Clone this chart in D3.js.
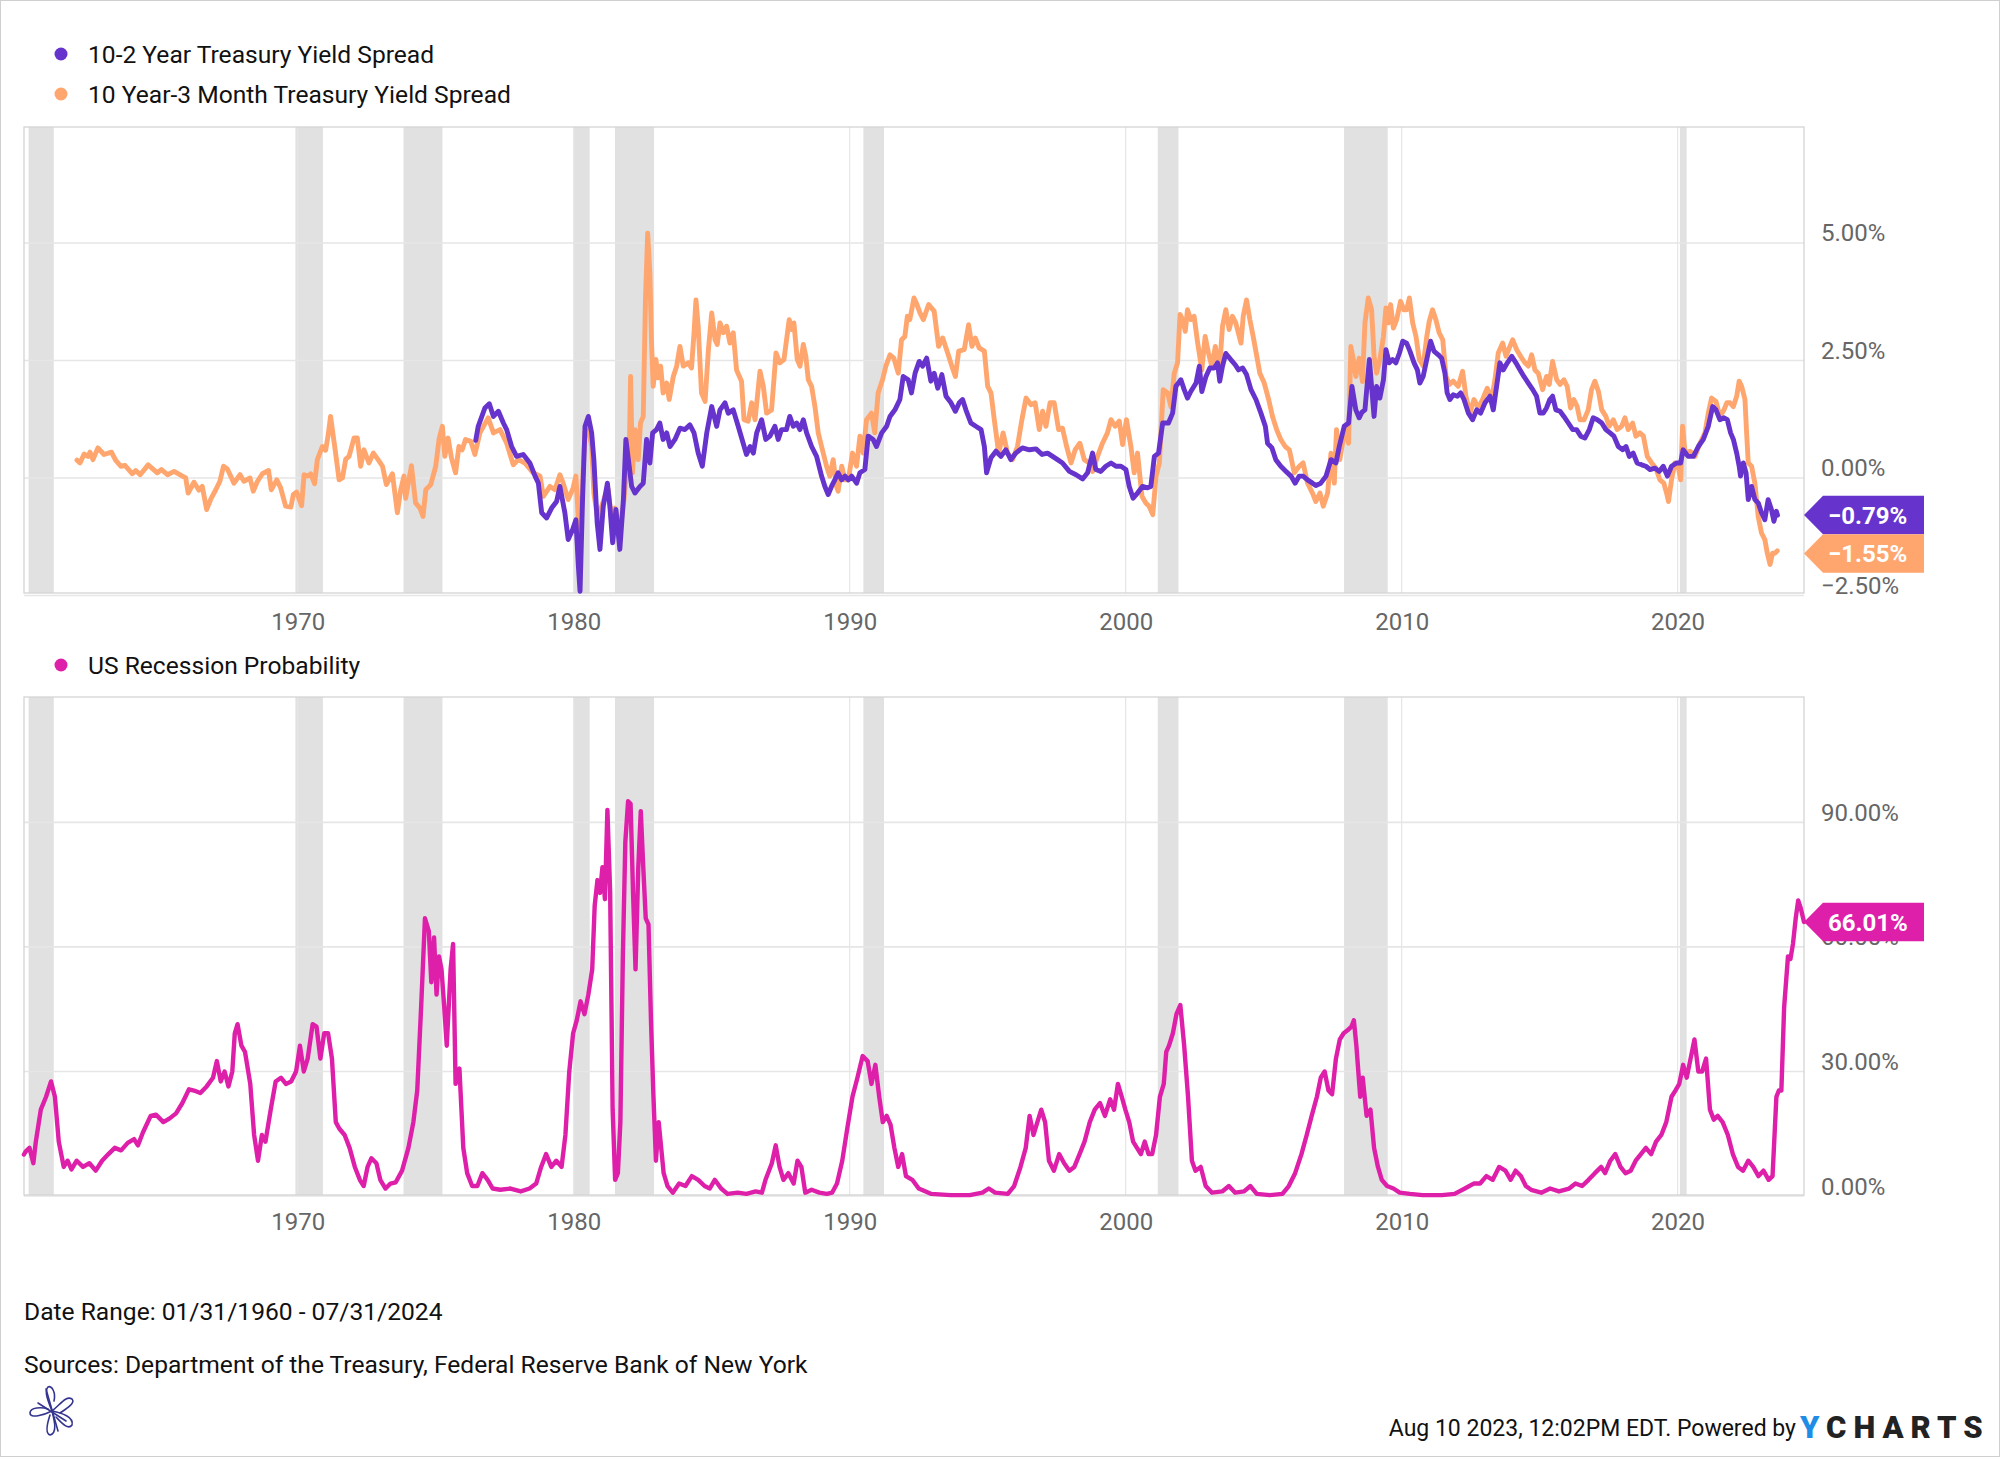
<!DOCTYPE html>
<html><head><meta charset="utf-8">
<script src="https://cdn.jsdelivr.net/npm/d3@7"></script>
<style>body{margin:0;background:#fff;} svg{display:block;font-family:Roboto, "Noto Sans", sans-serif;}</style>
</head><body>
<svg id="c" width="2000" height="1457"></svg>
<script>
// ---------------- DATA ----------------
const recessions = [["1960-04-01","1961-02-28"],["1969-12-01","1970-11-30"],["1973-11-01","1975-03-31"],["1980-01-01","1980-07-31"],["1981-07-01","1982-11-30"],["1990-07-01","1991-03-31"],["2001-03-01","2001-11-30"],["2007-12-01","2009-06-30"],["2020-02-01","2020-04-30"]];
const xTickYears = [1970,1980,1990,2000,2010,2020];
const yTicksTop = [-2.5,0,2.5,5];
const yTicksBottom = [0,30,60,90];
const seriesNames = ["10-2 Year Treasury Yield Spread","10 Year-3 Month Treasury Yield Spread","US Recession Probability"];
const lastValues = [-0.79,-1.55,66.01];

// [decimal year, value %]
const spread10y2y = [[1976.45,0.80],[1976.54,1.10],[1976.78,1.49],[1976.94,1.58],[1977.09,1.31],[1977.27,1.42],[1977.45,1.17],[1977.57,1.03],[1977.75,0.67],[1977.93,0.46],[1978.17,0.50],[1978.41,0.32],[1978.60,0.04],[1978.72,-0.11],[1978.84,-0.74],[1979.02,-0.85],[1979.20,-0.64],[1979.38,-0.50],[1979.50,-0.18],[1979.68,-0.74],[1979.80,-1.31],[1979.96,-1.10],[1980.08,-0.89],[1980.17,-1.88],[1980.23,-2.41],[1980.32,-0.46],[1980.41,1.10],[1980.53,1.31],[1980.65,0.96],[1980.73,0.39],[1980.85,-0.96],[1980.95,-1.52],[1981.07,-0.60],[1981.22,-0.11],[1981.31,-0.60],[1981.41,-1.38],[1981.53,-0.67],[1981.67,-1.52],[1981.80,-0.46],[1981.89,0.82],[1981.98,0.39],[1982.10,-0.18],[1982.22,-0.32],[1982.40,-0.18],[1982.52,-0.11],[1982.64,0.82],[1982.76,0.32],[1982.86,0.96],[1983.00,1.03],[1983.12,1.17],[1983.24,0.82],[1983.37,0.96],[1983.49,0.67],[1983.67,0.82],[1983.85,1.06],[1984.03,1.03],[1984.21,1.13],[1984.36,0.96],[1984.51,0.53],[1984.66,0.25],[1984.82,0.96],[1985.00,1.52],[1985.18,1.10],[1985.30,1.45],[1985.48,1.60],[1985.60,1.38],[1985.78,1.45],[1985.96,1.10],[1986.14,0.74],[1986.26,0.50],[1986.39,0.67],[1986.51,0.53],[1986.63,0.96],[1986.81,1.24],[1986.96,0.82],[1987.11,0.89],[1987.29,1.10],[1987.41,0.82],[1987.53,1.03],[1987.71,1.03],[1987.83,1.31],[1987.96,1.10],[1988.08,1.17],[1988.20,1.03],[1988.32,1.24],[1988.44,0.96],[1988.62,0.67],[1988.80,0.46],[1988.98,0.04],[1989.10,-0.18],[1989.22,-0.35],[1989.34,-0.18],[1989.46,-0.04],[1989.58,0.11],[1989.71,-0.04],[1989.83,0.04],[1989.95,-0.04],[1990.07,0.04],[1990.25,-0.11],[1990.37,0.11],[1990.55,0.18],[1990.67,0.89],[1990.85,0.82],[1990.97,0.67],[1991.16,0.96],[1991.34,1.10],[1991.46,1.31],[1991.64,1.45],[1991.82,1.67],[1991.94,2.16],[1992.12,2.09],[1992.24,1.81],[1992.37,2.23],[1992.52,2.48],[1992.64,2.38],[1992.79,2.55],[1992.94,2.06],[1993.06,2.23],[1993.19,1.91],[1993.34,2.20],[1993.49,1.74],[1993.67,1.60],[1993.83,1.42],[1993.97,1.60],[1994.09,1.67],[1994.21,1.45],[1994.39,1.17],[1994.57,1.10],[1994.76,1.03],[1994.88,0.67],[1994.96,0.11],[1995.12,0.43],[1995.30,0.57],[1995.48,0.46],[1995.66,0.60],[1995.84,0.39],[1996.02,0.53],[1996.26,0.64],[1996.51,0.60],[1996.75,0.62],[1996.97,0.50],[1997.17,0.53],[1997.35,0.46],[1997.53,0.39],[1997.71,0.32],[1997.96,0.14],[1998.20,0.07],[1998.44,-0.02],[1998.62,0.11],[1998.80,0.53],[1998.92,0.18],[1999.10,0.14],[1999.28,0.25],[1999.47,0.32],[1999.65,0.25],[1999.83,0.25],[2000.01,0.18],[2000.13,-0.18],[2000.27,-0.43],[2000.43,-0.32],[2000.61,-0.18],[2000.79,-0.21],[2000.91,-0.18],[2001.04,0.46],[2001.19,0.53],[2001.34,1.17],[2001.55,1.17],[2001.70,1.38],[2001.82,1.95],[2002.00,2.09],[2002.12,1.88],[2002.24,1.70],[2002.36,1.84],[2002.55,2.02],[2002.67,2.38],[2002.76,1.84],[2002.91,2.16],[2003.05,2.34],[2003.21,2.34],[2003.33,2.45],[2003.41,2.06],[2003.51,2.38],[2003.63,2.65],[2003.81,2.52],[2003.97,2.41],[2004.09,2.30],[2004.24,2.34],[2004.38,2.20],[2004.54,1.88],[2004.72,1.67],[2004.90,1.38],[2005.06,1.10],[2005.14,0.74],[2005.30,0.64],[2005.44,0.39],[2005.62,0.25],[2005.81,0.14],[2005.99,0.04],[2006.14,-0.11],[2006.29,0.04],[2006.43,0.04],[2006.59,-0.04],[2006.77,-0.11],[2006.89,-0.16],[2007.07,-0.11],[2007.26,0.04],[2007.44,0.39],[2007.62,0.32],[2007.74,0.67],[2007.92,1.10],[2008.08,1.17],[2008.20,1.95],[2008.34,1.45],[2008.46,1.28],[2008.56,1.40],[2008.67,1.45],[2008.83,2.52],[2008.91,1.95],[2009.00,1.31],[2009.09,1.95],[2009.21,1.70],[2009.34,2.09],[2009.43,2.73],[2009.55,2.45],[2009.67,2.52],[2009.79,2.45],[2009.92,2.66],[2010.04,2.91],[2010.18,2.87],[2010.30,2.70],[2010.45,2.45],[2010.57,2.30],[2010.66,2.02],[2010.78,2.16],[2010.91,2.52],[2011.05,2.91],[2011.17,2.70],[2011.33,2.62],[2011.45,2.55],[2011.57,2.23],[2011.65,1.81],[2011.75,1.67],[2011.87,1.77],[2012.02,1.74],[2012.14,1.81],[2012.26,1.67],[2012.42,1.38],[2012.57,1.24],[2012.72,1.45],[2012.86,1.38],[2013.02,1.60],[2013.20,1.74],[2013.32,1.45],[2013.44,1.95],[2013.56,2.45],[2013.68,2.30],[2013.83,2.45],[2013.99,2.59],[2014.14,2.45],[2014.29,2.30],[2014.43,2.16],[2014.59,2.02],[2014.75,1.88],[2014.89,1.74],[2015.01,1.38],[2015.13,1.38],[2015.25,1.49],[2015.37,1.67],[2015.47,1.74],[2015.59,1.45],[2015.74,1.42],[2015.88,1.31],[2016.04,1.17],[2016.20,1.03],[2016.34,1.03],[2016.49,0.89],[2016.64,0.85],[2016.80,1.03],[2016.94,1.28],[2017.09,1.24],[2017.25,1.17],[2017.40,1.03],[2017.55,0.96],[2017.69,0.89],[2017.85,0.67],[2018.01,0.60],[2018.13,0.67],[2018.25,0.46],[2018.39,0.53],[2018.53,0.32],[2018.70,0.28],[2018.85,0.25],[2019.00,0.18],[2019.18,0.21],[2019.33,0.14],[2019.48,0.25],[2019.63,0.04],[2019.78,0.25],[2019.96,0.32],[2020.11,0.32],[2020.20,0.60],[2020.38,0.46],[2020.57,0.46],[2020.75,0.67],[2020.93,0.82],[2021.11,1.10],[2021.27,1.52],[2021.39,1.45],[2021.53,1.24],[2021.68,1.28],[2021.80,1.24],[2021.92,0.96],[2022.02,0.82],[2022.14,0.53],[2022.23,0.25],[2022.28,0.04],[2022.38,0.32],[2022.48,0.11],[2022.56,-0.46],[2022.68,-0.18],[2022.80,-0.46],[2022.92,-0.53],[2023.04,-0.74],[2023.16,-0.89],[2023.28,-0.46],[2023.40,-0.67],[2023.49,-0.92],[2023.58,-0.71],[2023.62,-0.79]];

const spread10y3m = [[1962.00,0.38],[1962.11,0.32],[1962.26,0.51],[1962.40,0.46],[1962.47,0.55],[1962.58,0.39],[1962.76,0.64],[1962.98,0.50],[1963.25,0.55],[1963.40,0.38],[1963.59,0.25],[1963.74,0.27],[1964.01,0.09],[1964.13,0.16],[1964.29,0.07],[1964.58,0.28],[1964.91,0.11],[1965.06,0.18],[1965.28,0.07],[1965.52,0.14],[1965.82,0.04],[1965.94,0.00],[1966.03,-0.32],[1966.24,-0.09],[1966.42,-0.26],[1966.54,-0.18],[1966.70,-0.67],[1966.85,-0.45],[1967.03,-0.25],[1967.18,-0.07],[1967.31,0.25],[1967.45,0.19],[1967.69,-0.11],[1967.91,0.07],[1968.05,-0.07],[1968.27,0.00],[1968.39,-0.28],[1968.54,-0.07],[1968.72,0.09],[1968.94,0.16],[1969.04,-0.25],[1969.24,-0.04],[1969.38,-0.21],[1969.56,-0.60],[1969.75,-0.62],[1969.84,-0.35],[1969.96,-0.30],[1970.14,-0.59],[1970.23,0.07],[1970.37,0.04],[1970.47,0.09],[1970.61,-0.12],[1970.71,0.39],[1970.89,0.67],[1971.01,0.59],[1971.10,0.90],[1971.19,1.31],[1971.34,0.67],[1971.50,-0.04],[1971.62,0.00],[1971.74,0.40],[1971.86,0.46],[1972.04,0.85],[1972.16,0.85],[1972.28,0.25],[1972.40,0.60],[1972.58,0.32],[1972.74,0.53],[1972.91,0.39],[1973.07,0.25],[1973.21,-0.14],[1973.43,0.09],[1973.61,-0.74],[1973.73,-0.25],[1973.85,0.04],[1973.91,-0.43],[1974.12,0.26],[1974.27,-0.53],[1974.43,-0.64],[1974.54,-0.82],[1974.64,-0.25],[1974.82,-0.14],[1975.00,0.25],[1975.12,0.82],[1975.24,1.10],[1975.33,0.46],[1975.45,0.85],[1975.57,0.43],[1975.72,0.11],[1975.84,0.67],[1975.96,0.60],[1976.08,0.82],[1976.27,0.78],[1976.42,0.50],[1976.60,0.96],[1976.90,1.28],[1977.09,0.96],[1977.33,1.03],[1977.57,0.74],[1977.81,0.28],[1977.99,0.39],[1978.23,0.32],[1978.53,0.11],[1978.78,0.04],[1978.90,-0.39],[1979.14,-0.18],[1979.32,-0.25],[1979.50,0.07],[1979.62,-0.11],[1979.80,-0.46],[1979.98,-0.21],[1980.08,0.04],[1980.17,-0.89],[1980.23,-1.38],[1980.35,0.25],[1980.41,0.99],[1980.53,1.03],[1980.65,0.67],[1980.73,-0.32],[1980.89,-0.96],[1981.01,-0.60],[1981.13,-0.39],[1981.25,-0.25],[1981.37,-0.89],[1981.49,-0.64],[1981.67,-1.17],[1981.82,-0.46],[1981.92,0.18],[1982.01,0.39],[1982.06,2.16],[1982.13,0.11],[1982.22,1.03],[1982.34,0.39],[1982.42,1.17],[1982.52,1.31],[1982.60,3.79],[1982.68,5.21],[1982.76,4.36],[1982.82,2.87],[1982.88,1.95],[1982.98,2.52],[1983.06,2.13],[1983.15,2.38],[1983.24,1.81],[1983.37,2.02],[1983.46,1.67],[1983.61,2.16],[1983.73,2.38],[1983.85,2.80],[1983.97,2.38],[1984.15,2.45],[1984.27,2.34],[1984.36,3.09],[1984.43,3.79],[1984.51,3.23],[1984.63,1.81],[1984.76,1.63],[1984.88,2.73],[1985.00,3.51],[1985.12,2.94],[1985.20,2.84],[1985.30,3.30],[1985.42,3.09],[1985.54,3.23],[1985.66,2.87],[1985.78,3.09],[1985.90,2.30],[1986.08,2.06],[1986.17,1.24],[1986.32,1.21],[1986.45,1.60],[1986.57,1.24],[1986.75,2.27],[1986.87,1.95],[1986.99,1.38],[1987.17,1.45],[1987.33,2.66],[1987.47,2.45],[1987.62,2.52],[1987.69,2.84],[1987.81,3.37],[1987.90,3.16],[1987.98,3.30],[1988.10,2.52],[1988.20,2.38],[1988.32,2.84],[1988.41,2.59],[1988.50,2.09],[1988.62,1.95],[1988.74,1.52],[1988.86,0.96],[1988.98,0.67],[1989.16,0.25],[1989.28,0.04],[1989.40,0.39],[1989.52,-0.18],[1989.58,-0.28],[1989.71,0.25],[1989.83,-0.04],[1989.95,-0.04],[1990.10,0.53],[1990.25,0.25],[1990.37,0.89],[1990.49,0.53],[1990.61,1.24],[1990.79,1.38],[1990.91,0.96],[1991.03,1.81],[1991.19,2.09],[1991.31,2.38],[1991.46,2.62],[1991.60,2.55],[1991.76,2.23],[1991.88,2.94],[1992.00,3.01],[1992.09,3.44],[1992.18,3.37],[1992.33,3.83],[1992.43,3.70],[1992.55,3.51],[1992.67,3.37],[1992.86,3.69],[1993.06,3.55],[1993.22,2.80],[1993.37,2.98],[1993.55,2.66],[1993.70,2.38],[1993.83,2.16],[1993.95,2.70],[1994.15,2.73],[1994.31,3.26],[1994.43,2.80],[1994.55,2.98],[1994.69,2.77],[1994.88,2.70],[1995.00,1.95],[1995.12,1.81],[1995.24,1.24],[1995.40,0.53],[1995.56,0.96],[1995.72,0.53],[1995.90,0.39],[1996.08,0.67],[1996.24,1.24],[1996.39,1.70],[1996.57,1.56],[1996.72,1.60],[1996.87,1.03],[1996.99,1.42],[1997.11,1.10],[1997.26,1.60],[1997.41,1.60],[1997.57,1.03],[1997.71,1.06],[1997.86,0.67],[1998.02,0.32],[1998.17,0.60],[1998.34,0.74],[1998.50,0.39],[1998.68,0.32],[1998.80,0.14],[1998.98,0.46],[1999.16,0.74],[1999.34,0.96],[1999.47,1.24],[1999.62,1.10],[1999.77,1.21],[1999.89,0.71],[2000.03,1.24],[2000.19,0.67],[2000.31,0.11],[2000.43,0.53],[2000.59,-0.39],[2000.73,-0.53],[2000.85,-0.60],[2000.98,-0.78],[2001.10,0.04],[2001.22,0.32],[2001.36,1.88],[2001.52,1.81],[2001.64,1.52],[2001.76,2.23],[2001.88,2.45],[2001.97,3.48],[2002.06,3.37],[2002.16,3.12],[2002.24,3.58],[2002.36,3.37],[2002.48,3.44],[2002.61,2.87],[2002.76,2.30],[2002.88,3.01],[2003.00,2.66],[2003.12,2.38],[2003.25,2.80],[2003.39,2.23],[2003.51,3.23],[2003.63,3.58],[2003.75,3.16],[2003.87,3.44],[2003.99,3.30],[2004.18,2.87],[2004.26,3.44],[2004.38,3.79],[2004.50,3.37],[2004.62,3.01],[2004.75,2.59],[2004.86,2.23],[2005.02,2.02],[2005.18,1.67],[2005.32,1.31],[2005.47,1.03],[2005.62,0.82],[2005.78,0.67],[2005.93,0.60],[2006.11,0.11],[2006.29,0.25],[2006.43,0.32],[2006.59,-0.11],[2006.77,-0.32],[2006.89,-0.50],[2007.04,-0.32],[2007.16,-0.60],[2007.32,-0.32],[2007.44,0.53],[2007.56,-0.11],[2007.64,1.03],[2007.76,0.39],[2007.86,0.74],[2007.98,1.03],[2008.08,0.74],[2008.16,2.80],[2008.25,2.52],[2008.34,2.16],[2008.46,2.55],[2008.58,2.05],[2008.67,3.30],[2008.79,3.83],[2008.91,3.58],[2009.00,2.59],[2009.09,2.23],[2009.21,2.52],[2009.34,3.01],[2009.43,3.62],[2009.52,3.30],[2009.60,3.69],[2009.70,3.19],[2009.82,3.37],[2009.96,3.76],[2010.08,3.58],[2010.18,3.58],[2010.28,3.83],[2010.40,3.30],[2010.52,3.01],[2010.64,2.52],[2010.78,2.38],[2010.91,3.01],[2011.00,3.33],[2011.12,3.58],[2011.24,3.37],[2011.36,3.09],[2011.49,2.94],[2011.61,2.16],[2011.73,1.99],[2011.87,2.06],[2012.05,1.95],[2012.21,2.27],[2012.33,1.74],[2012.48,1.38],[2012.62,1.67],[2012.78,1.49],[2012.93,1.67],[2013.10,1.91],[2013.26,1.67],[2013.38,2.09],[2013.50,2.66],[2013.66,2.87],[2013.78,2.59],[2013.90,2.77],[2014.02,2.94],[2014.17,2.73],[2014.31,2.59],[2014.47,2.45],[2014.59,2.38],[2014.71,2.62],[2014.83,2.30],[2014.95,2.23],[2015.11,1.88],[2015.25,2.16],[2015.35,1.99],[2015.47,2.48],[2015.62,2.09],[2015.74,1.99],[2015.88,2.09],[2016.00,1.95],[2016.12,1.49],[2016.24,1.67],[2016.36,1.52],[2016.46,1.24],[2016.61,1.24],[2016.76,1.45],[2016.88,1.88],[2017.00,2.06],[2017.13,1.84],[2017.25,1.45],[2017.40,1.31],[2017.52,1.10],[2017.67,1.24],[2017.81,1.03],[2017.97,1.10],[2018.09,1.28],[2018.21,1.03],[2018.37,1.17],[2018.49,0.89],[2018.63,0.96],[2018.76,0.89],[2018.90,0.46],[2019.06,0.32],[2019.21,0.21],[2019.36,-0.04],[2019.50,-0.11],[2019.60,-0.32],[2019.67,-0.50],[2019.78,-0.04],[2019.90,0.32],[2020.02,0.25],[2020.11,-0.04],[2020.18,1.10],[2020.27,0.53],[2020.45,0.57],[2020.63,0.46],[2020.81,0.74],[2020.99,0.96],[2021.11,1.38],[2021.23,1.70],[2021.39,1.63],[2021.53,1.31],[2021.68,1.45],[2021.78,1.60],[2021.90,1.60],[2022.02,1.52],[2022.14,1.74],[2022.23,2.06],[2022.32,1.95],[2022.44,1.67],[2022.50,0.96],[2022.56,0.32],[2022.68,0.25],[2022.80,-0.11],[2022.92,-0.82],[2023.04,-1.17],[2023.16,-1.31],[2023.25,-1.60],[2023.35,-1.84],[2023.44,-1.60],[2023.53,-1.60],[2023.61,-1.55]];

const recessionProb = [[1960.08,10.0],[1960.14,10.7],[1960.28,11.6],[1960.42,7.9],[1960.51,13.1],[1960.69,20.8],[1960.88,23.9],[1961.06,27.6],[1961.20,23.9],[1961.34,13.1],[1961.52,7.0],[1961.66,8.5],[1961.80,6.4],[1961.99,8.5],[1962.22,7.0],[1962.45,7.9],[1962.68,6.1],[1962.91,8.5],[1963.14,10.1],[1963.37,11.6],[1963.60,11.0],[1963.84,12.8],[1964.07,13.7],[1964.21,12.2],[1964.39,15.3],[1964.67,19.3],[1964.86,19.6],[1965.13,17.8],[1965.36,18.7],[1965.59,19.9],[1965.82,22.4],[1966.06,25.7],[1966.24,25.4],[1966.47,24.8],[1966.70,26.4],[1966.93,28.5],[1967.07,32.5],[1967.21,27.6],[1967.35,30.0],[1967.49,26.4],[1967.63,30.0],[1967.72,39.2],[1967.82,41.4],[1967.96,36.2],[1968.09,34.7],[1968.28,27.0],[1968.42,14.7],[1968.56,8.5],[1968.70,14.7],[1968.83,13.1],[1969.02,20.8],[1969.20,27.6],[1969.39,28.5],[1969.57,27.0],[1969.76,27.6],[1969.94,30.0],[1970.08,36.2],[1970.22,30.0],[1970.36,33.1],[1970.54,41.4],[1970.68,40.8],[1970.82,33.1],[1970.96,39.2],[1971.10,39.2],[1971.24,33.1],[1971.38,17.8],[1971.51,16.2],[1971.70,14.7],[1971.88,11.6],[1972.07,7.0],[1972.25,3.9],[1972.39,2.4],[1972.53,7.0],[1972.67,9.1],[1972.85,7.9],[1972.99,3.9],[1973.18,1.8],[1973.36,3.0],[1973.55,3.3],[1973.78,6.1],[1974.01,11.6],[1974.19,17.8],[1974.33,25.4],[1974.47,45.4],[1974.61,66.9],[1974.75,63.8],[1974.84,51.5],[1974.94,62.3],[1975.03,48.5],[1975.12,57.7],[1975.21,54.6],[1975.31,45.4],[1975.40,36.2],[1975.54,54.6],[1975.63,60.7],[1975.72,27.0],[1975.86,30.7],[1976.00,11.6],[1976.14,5.5],[1976.32,2.4],[1976.51,2.4],[1976.69,5.5],[1976.88,3.9],[1977.06,1.8],[1977.34,1.5],[1977.71,1.8],[1978.08,1.1],[1978.40,1.8],[1978.64,3.0],[1978.82,7.0],[1979.00,10.1],[1979.19,7.0],[1979.37,8.5],[1979.56,7.0],[1979.70,14.7],[1979.84,30.0],[1979.98,39.2],[1980.11,42.3],[1980.25,46.9],[1980.39,43.8],[1980.53,48.5],[1980.67,54.6],[1980.76,70.0],[1980.86,76.1],[1980.95,73.0],[1981.04,79.2],[1981.13,71.5],[1981.22,93.0],[1981.32,73.0],[1981.41,20.8],[1981.50,3.9],[1981.60,5.5],[1981.69,17.8],[1981.78,57.7],[1981.87,85.3],[1981.97,95.1],[1982.06,94.5],[1982.15,73.0],[1982.24,54.6],[1982.34,79.2],[1982.43,92.7],[1982.52,79.2],[1982.61,66.9],[1982.71,65.4],[1982.80,42.3],[1982.89,23.9],[1982.98,8.5],[1983.08,17.8],[1983.17,11.6],[1983.26,5.5],[1983.40,2.4],[1983.59,0.8],[1983.82,3.0],[1984.05,2.4],[1984.28,4.8],[1984.51,3.9],[1984.74,2.4],[1984.93,1.8],[1985.11,3.9],[1985.34,1.8],[1985.57,0.5],[1985.94,0.8],[1986.26,0.5],[1986.59,1.1],[1986.82,0.8],[1986.95,3.9],[1987.18,7.9],[1987.32,12.2],[1987.46,7.0],[1987.60,3.9],[1987.78,5.5],[1987.97,3.0],[1988.11,8.5],[1988.25,7.0],[1988.39,0.8],[1988.62,1.5],[1988.90,0.8],[1989.17,0.5],[1989.36,0.8],[1989.54,3.0],[1989.73,8.5],[1989.91,16.2],[1990.10,23.9],[1990.28,28.5],[1990.47,33.7],[1990.65,32.5],[1990.79,27.0],[1990.93,31.6],[1991.07,23.9],[1991.20,17.8],[1991.34,19.3],[1991.48,17.2],[1991.62,11.6],[1991.76,7.0],[1991.90,10.1],[1992.04,4.8],[1992.27,3.9],[1992.50,1.8],[1992.96,0.5],[1993.65,0.2],[1994.35,0.2],[1994.81,0.8],[1995.04,1.8],[1995.27,0.8],[1995.73,0.5],[1995.96,2.4],[1996.19,7.0],[1996.38,11.6],[1996.52,19.3],[1996.66,14.7],[1996.80,17.8],[1996.94,20.8],[1997.08,17.8],[1997.22,8.5],[1997.40,6.1],[1997.59,10.1],[1997.77,7.9],[1997.96,6.1],[1998.14,7.0],[1998.33,10.1],[1998.51,13.1],[1998.70,17.8],[1998.88,20.8],[1999.07,22.4],[1999.25,19.3],[1999.44,23.3],[1999.58,20.8],[1999.72,27.0],[1999.86,23.9],[1999.99,20.8],[2000.13,17.8],[2000.27,13.1],[2000.41,11.6],[2000.55,10.1],[2000.69,13.1],[2000.83,10.1],[2000.96,10.1],[2001.10,14.7],[2001.24,23.9],[2001.38,27.0],[2001.47,34.7],[2001.57,36.2],[2001.71,39.2],[2001.84,43.8],[2001.98,46.0],[2002.12,36.2],[2002.26,23.9],[2002.40,8.5],[2002.53,6.1],[2002.72,7.0],[2002.90,2.4],[2003.13,0.8],[2003.50,1.1],[2003.74,2.4],[2003.97,0.8],[2004.29,1.1],[2004.52,2.4],[2004.75,0.5],[2005.22,0.2],[2005.68,0.5],[2005.91,2.4],[2006.14,5.5],[2006.37,10.1],[2006.56,14.7],[2006.74,19.3],[2006.93,23.9],[2007.07,28.5],[2007.21,30.0],[2007.35,25.4],[2007.48,24.5],[2007.62,33.1],[2007.76,37.7],[2007.90,39.2],[2008.04,39.9],[2008.18,40.8],[2008.27,42.3],[2008.36,36.2],[2008.50,23.9],[2008.59,28.5],[2008.73,19.3],[2008.87,20.8],[2009.00,11.6],[2009.14,7.0],[2009.28,3.9],[2009.47,2.4],[2009.70,1.8],[2009.93,0.8],[2010.30,0.5],[2010.76,0.2],[2011.46,0.2],[2011.92,0.5],[2012.29,1.8],[2012.61,3.0],[2012.84,3.0],[2013.07,4.8],[2013.30,3.9],[2013.53,7.0],[2013.76,6.1],[2013.95,3.9],[2014.13,6.1],[2014.32,4.8],[2014.50,2.4],[2014.69,1.5],[2015.06,0.8],[2015.38,1.8],[2015.70,1.1],[2016.07,1.8],[2016.30,3.0],[2016.54,2.4],[2016.77,3.9],[2017.00,5.5],[2017.23,7.0],[2017.37,5.5],[2017.56,8.5],[2017.74,10.1],[2017.93,7.0],[2018.11,5.5],[2018.30,6.1],[2018.48,8.5],[2018.67,10.1],[2018.85,11.6],[2019.04,10.1],[2019.22,13.1],[2019.41,14.7],[2019.59,17.8],[2019.78,23.9],[2019.92,25.4],[2020.06,27.0],[2020.20,31.6],[2020.33,28.5],[2020.47,33.1],[2020.61,37.7],[2020.75,30.0],[2020.89,30.0],[2021.03,33.1],[2021.17,20.8],[2021.31,18.4],[2021.45,19.3],[2021.63,17.8],[2021.82,14.7],[2022.00,10.1],[2022.19,7.0],[2022.37,6.1],[2022.56,8.5],[2022.74,7.0],[2022.93,4.8],[2023.11,6.1],[2023.30,3.9],[2023.44,4.8],[2023.58,23.9],[2023.67,25.4],[2023.76,25.4],[2023.86,45.4],[2024.00,57.7],[2024.09,57.1],[2024.18,60.7],[2024.28,66.9],[2024.37,71.2],[2024.46,69.4],[2024.58,66.01]];

// ---------------- DRAW ----------------
const COL = {purple:"#6633cc", orange:"#ffa66f", magenta:"#de1fa9", band:"#e1e1e1", grid:"#e6e6e6", border:"#d4d4d4", label:"#666666"};
const svg = d3.select("#c");
const FONT = 24.6;
function toDate(y){const yr=Math.floor(y);const s=Date.UTC(yr,0,1),e=Date.UTC(yr+1,0,1);return new Date(s+(y-yr)*(e-s));}

const x = d3.scaleUtc().domain([new Date(Date.UTC(1960,0,31)), new Date(Date.UTC(2024,6,31))]).range([24,1804]);
const P1 = {top:127, bottom:593}, P2 = {top:697, bottom:1195};
const y1 = d3.scaleLinear().domain([-2.447, 7.468]).range([P1.bottom, P1.top]);
const y2 = d3.scaleLinear().domain([0, 120.2]).range([1196, P2.top]);

svg.append("rect").attr("x",0.5).attr("y",0.5).attr("width",1999).attr("height",1456).attr("fill","#fff").attr("stroke","#cfcfcf");

function panel(P, y, ticks, fmt, tickBaseline){
  const g = svg.append("g");
  g.selectAll("rect.band").data(recessions).join("rect")
    .attr("x", d=>x(new Date(d[0]))).attr("width", d=>x(new Date(d[1]))-x(new Date(d[0])))
    .attr("y", P.top).attr("height", P.bottom-P.top).attr("fill", COL.band);
  g.selectAll("line.vg").data(xTickYears).join("line")
    .attr("x1", d=>x(new Date(Date.UTC(d,0,1)))).attr("x2", d=>x(new Date(Date.UTC(d,0,1))))
    .attr("y1", P.top).attr("y2", P.bottom).attr("stroke", COL.grid).attr("stroke-width",1.2);
  g.selectAll("line.hg").data(ticks).join("line")
    .attr("x1", 24).attr("x2", 1804).attr("y1", d=>y(d)).attr("y2", d=>y(d))
    .attr("stroke", COL.grid).attr("stroke-width",1.6);
  g.append("rect").attr("x",24).attr("y",P.top).attr("width",1780).attr("height",P.bottom-P.top)
    .attr("fill","none").attr("stroke",COL.border).attr("stroke-width",1.3);
  const ay = d3.axisRight(y).tickValues(ticks).tickFormat(fmt).tickSize(0).tickPadding(17);
  const ga = svg.append("g").attr("transform","translate(1804,0)").call(ay);
  ga.select(".domain").remove();
  ga.selectAll("text").attr("dy",-2).attr("fill",COL.label).attr("font-size",24).attr("font-family","Roboto");
  const ax = d3.axisBottom(x).tickValues(xTickYears.map(d=>new Date(Date.UTC(d,0,1)))).tickFormat(d3.utcFormat("%Y")).tickSize(0);
  const gx = svg.append("g").attr("transform",`translate(0,${tickBaseline})`).call(ax);
  gx.select(".domain").remove();
  gx.selectAll("text").attr("y",0).attr("dy",0).attr("fill",COL.label).attr("font-size",24).attr("font-family","Roboto");
}
const pct = d=>d3.format(".2f")(d)+"%";
panel(P1, y1, yTicksTop, pct, 630);
panel(P2, y2, yTicksBottom, pct, 1230);

function drawLine(data, y, color, w){
  const line = d3.line().x(d=>x(toDate(d[0]))).y(d=>y(d[1])).curve(d3.curveLinear);
  svg.append("path").datum(data).attr("d",line).attr("fill","none").attr("stroke",color)
    .attr("stroke-width",w).attr("stroke-linejoin","round").attr("stroke-linecap","round");
}
drawLine(spread10y3m, y1, COL.orange, 4.9);
drawLine(spread10y2y, y1, COL.purple, 4.9);
drawLine(recessionProb, y2, COL.magenta, 4.4);

function badge(yc, color, txt){
  const h=38.5, tip=1804, bx=1823, bw=101;
  svg.append("path").attr("d",`M${tip},${yc} L${bx},${yc-h/2} L${bx+bw},${yc-h/2} L${bx+bw},${yc+h/2} L${bx},${yc+h/2} Z`).attr("fill",color);
  svg.append("text").attr("x",bx+5).attr("y",yc+8.6).attr("fill","#fff").attr("font-size",24).attr("font-weight",700).attr("font-family","Roboto").text(txt);
}
let c1 = y1(lastValues[0]);
let c2 = Math.max(y1(lastValues[1]), c1+38.5);
badge(c1, COL.purple, pct(lastValues[0]));
badge(c2, COL.orange, pct(lastValues[1]));
badge(y2(lastValues[2]), COL.magenta, pct(lastValues[2]));

function legend(cy, color, txt){
  svg.append("circle").attr("cx",61).attr("cy",cy).attr("r",6.5).attr("fill",color);
  svg.append("text").attr("x",88).attr("y",cy+9).attr("font-size",FONT).attr("fill","#111").text(txt);
}
legend(54, COL.purple, seriesNames[0]);
legend(94, COL.orange, seriesNames[1]);
legend(665, COL.magenta, seriesNames[2]);

svg.append("text").attr("x",24).attr("y",1320).attr("font-size",FONT).attr("fill","#111").text("Date Range: 01/31/1960 - 07/31/2024");
svg.append("text").attr("x",24).attr("y",1373).attr("font-size",FONT).attr("fill","#111").text("Sources: Department of the Treasury, Federal Reserve Bank of New York");
svg.append("text").attr("x",1796).attr("y",1436).attr("text-anchor","end").attr("font-size",23).attr("fill","#111").text("Aug 10 2023, 12:02PM EDT. Powered by");
const yc = svg.append("text").attr("x",1800).attr("y",1438).attr("font-size",31).attr("font-weight",900).attr("letter-spacing",7).attr("font-family","Roboto");
yc.append("tspan").attr("fill","#1f8de6").text("Y");
yc.append("tspan").attr("fill","#222").text("CHARTS");

const lg = svg.append("g").attr("transform","translate(52,1411)").attr("fill","none").attr("stroke","#35358f").attr("stroke-width",1.6).attr("stroke-linecap","round");
["M0,0 C-4,-10 -8,-20 -4,-24 C0,-26 4,-18 2,-10","M0,0 C8,-6 14,-16 20,-12 C24,-8 14,-2 8,2","M0,0 C10,2 22,6 20,14 C16,20 8,10 4,6","M0,0 C2,8 6,22 -2,24 C-8,22 -4,10 -2,4","M0,0 C-8,4 -22,8 -22,2 C-22,-4 -10,-4 -4,-2","M-6,-22 L6,20","M-14,-8 L14,10"].forEach(d=>lg.append("path").attr("d",d));
</script>
</body></html>
